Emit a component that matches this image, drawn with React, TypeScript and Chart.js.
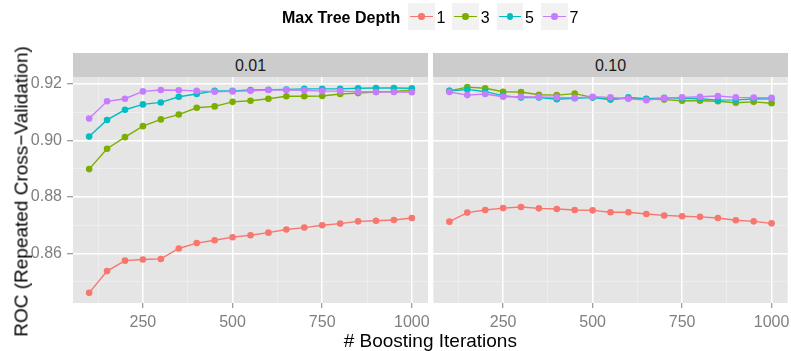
import React, { useEffect, useRef } from "react";
import { Chart, registerables } from "chart.js";

Chart.register(...registerables);

// ---------- data ----------
const iterations = [100, 150, 200, 250, 300, 350, 400, 450, 500, 550, 600, 650, 700, 750, 800, 850, 900, 950, 1000];
const depthLabels = ["1", "3", "5", "7"];
const depthColors = ["#F8766D", "#7CAE00", "#00BFC4", "#C77CFF"];
const shrinkageLabels = ["0.01", "0.10"];

// shrinkage 0.01
const depth1Shrink001 = [0.8461, 0.8538, 0.8575, 0.8579, 0.8581, 0.8618, 0.8637, 0.8647, 0.8658, 0.8665, 0.8674, 0.8685, 0.8692, 0.8700, 0.8706, 0.8714, 0.8716, 0.8719, 0.8726];
const depth3Shrink001 = [0.8899, 0.8971, 0.9012, 0.9051, 0.9075, 0.9092, 0.9116, 0.9121, 0.9137, 0.9141, 0.9148, 0.9157, 0.9157, 0.9158, 0.9165, 0.9168, 0.9172, 0.9174, 0.9178];
const depth5Shrink001 = [0.9014, 0.9073, 0.9109, 0.9128, 0.9135, 0.9155, 0.9165, 0.9176, 0.9176, 0.9179, 0.9180, 0.9181, 0.9183, 0.9183, 0.9183, 0.9185, 0.9186, 0.9186, 0.9185];
const depth7Shrink001 = [0.9078, 0.9139, 0.9148, 0.9174, 0.9179, 0.9178, 0.9176, 0.9173, 0.9174, 0.9176, 0.9179, 0.9179, 0.9178, 0.9175, 0.9175, 0.9173, 0.9172, 0.9172, 0.9171];

// shrinkage 0.10
const depth1Shrink010 = [0.8713, 0.8745, 0.8754, 0.8761, 0.8765, 0.8760, 0.8758, 0.8754, 0.8753, 0.8746, 0.8746, 0.8740, 0.8735, 0.8732, 0.8730, 0.8726, 0.8718, 0.8714, 0.8707];
const depth3Shrink010 = [0.9176, 0.9189, 0.9185, 0.9173, 0.9172, 0.9162, 0.9161, 0.9166, 0.9153, 0.9146, 0.9150, 0.9147, 0.9145, 0.9141, 0.9141, 0.9139, 0.9134, 0.9137, 0.9132];
const depth5Shrink010 = [0.9176, 0.9181, 0.9173, 0.9159, 0.9152, 0.9152, 0.9146, 0.9150, 0.9152, 0.9145, 0.9153, 0.9148, 0.9151, 0.9150, 0.9148, 0.9143, 0.9144, 0.9147, 0.9148];
const depth7Shrink010 = [0.9172, 0.9161, 0.9165, 0.9155, 0.9155, 0.9154, 0.9153, 0.9151, 0.9155, 0.9153, 0.9148, 0.9143, 0.9150, 0.9153, 0.9155, 0.9158, 0.9153, 0.9152, 0.9151];

const xMajorTicks = [250, 500, 750, 1000];
const xMinorTicks = [125, 375, 625, 875];
const yMajorTicks = [0.86, 0.88, 0.9, 0.92];
const yMinorTicks = [0.85, 0.87, 0.89, 0.91];
const xLimits = [55, 1045];
const yLimits = [0.8425, 0.9225];

const legendTitle = "Max Tree Depth";
const xTitle = "# Boosting Iterations";
const yTitle = "ROC (Repeated Cross\u2212Validation)";

// ---------- styling ----------
const FONT = "'Liberation Sans', Arial, Helvetica, sans-serif";
const TICK_GREY = "#7F7F7F";

const isIn = (arr: number[], v: number) => arr.some((m) => Math.abs(m - v) < 1e-9);

const panelBackground = {
  id: "panelBackground",
  beforeDraw(chart: any) {
    const { ctx, chartArea } = chart;
    if (!chartArea) return;
    ctx.save();
    ctx.fillStyle = "#E5E5E5";
    ctx.fillRect(chartArea.left, chartArea.top, chartArea.right - chartArea.left, chartArea.bottom - chartArea.top);
    ctx.restore();
  },
};

function buildDatasets(series: number[][]) {
  const n = series.length;
  const lines = series.map((vals, i) => ({
    label: depthLabels[i] + "-line",
    data: iterations.map((x, k) => ({ x, y: vals[k] })),
    borderColor: depthColors[i],
    backgroundColor: depthColors[i],
    borderWidth: 1.4,
    pointRadius: 0,
    pointHoverRadius: 0,
    fill: false,
    tension: 0,
    order: 10 + (n - 1 - i),
  }));
  const points = series.map((vals, i) => ({
    label: depthLabels[i],
    data: iterations.map((x, k) => ({ x, y: vals[k] })),
    showLine: false,
    borderColor: depthColors[i],
    backgroundColor: depthColors[i],
    pointRadius: 3.3,
    pointHoverRadius: 3.3,
    pointBackgroundColor: depthColors[i],
    pointBorderColor: depthColors[i],
    pointBorderWidth: 0,
    order: n - 1 - i,
  }));
  return [...lines, ...points];
}

function makeConfig(series: number[][], showY: boolean, padding: any): any {
  return {
    type: "line",
    data: { datasets: buildDatasets(series) },
    plugins: [panelBackground],
    options: {
      animation: false,
      responsive: false,
      maintainAspectRatio: false,
      events: [],
      layout: { padding },
      plugins: { legend: { display: false }, tooltip: { enabled: false }, title: { display: false } },
      scales: {
        x: {
          type: "linear",
          min: xLimits[0],
          max: xLimits[1],
          afterBuildTicks: (s: any) => {
            s.ticks = [...xMinorTicks, ...xMajorTicks].sort((a, b) => a - b).map((v) => ({ value: v }));
          },
          afterFit: (s: any) => {
            s.height = 48;
            s.paddingLeft = 0;
            s.paddingRight = 0;
          },
          border: { display: false },
          grid: {
            drawTicks: true,
            tickLength: 5,
            tickWidth: 1,
            color: (c: any) => (c.tick && isIn(xMajorTicks, c.tick.value) ? "#FFFFFF" : "#F2F2F2"),
            lineWidth: (c: any) => (c.tick && isIn(xMajorTicks, c.tick.value) ? 1.5 : 0.7),
            tickColor: (c: any) => (c.tick && isIn(xMajorTicks, c.tick.value) ? TICK_GREY : "rgba(0,0,0,0)"),
          },
          ticks: {
            autoSkip: false,
            maxRotation: 0,
            minRotation: 0,
            padding: 5,
            color: TICK_GREY,
            font: { family: FONT, size: 16 },
            callback: (v: any) => (isIn(xMajorTicks, Number(v)) ? String(v) : ""),
          },
        },
        y: {
          type: "linear",
          min: yLimits[0],
          max: yLimits[1],
          afterBuildTicks: (s: any) => {
            s.ticks = [...yMinorTicks, ...yMajorTicks].sort((a, b) => a - b).map((v) => ({ value: v }));
          },
          afterFit: (s: any) => {
            s.width = showY ? 73 : 0;
            s.paddingTop = 0;
            s.paddingBottom = 0;
          },
          border: { display: false },
          grid: {
            drawTicks: showY,
            tickLength: 6,
            tickWidth: 1,
            color: (c: any) => (c.tick && isIn(yMajorTicks, c.tick.value) ? "#FFFFFF" : "#F2F2F2"),
            lineWidth: (c: any) => (c.tick && isIn(yMajorTicks, c.tick.value) ? 1.5 : 0.7),
            tickColor: (c: any) => (c.tick && isIn(yMajorTicks, c.tick.value) ? TICK_GREY : "rgba(0,0,0,0)"),
          },
          ticks: {
            display: showY,
            autoSkip: false,
            padding: 5,
            color: TICK_GREY,
            font: { family: FONT, size: 16 },
            callback: (v: any) => (isIn(yMajorTicks, Number(v)) ? Number(v).toFixed(2) : ""),
          },
        },
      },
    },
  };
}

export default function App() {
  const leftRef = useRef<HTMLCanvasElement | null>(null);
  const rightRef = useRef<HTMLCanvasElement | null>(null);

  useEffect(() => {
    const charts: Chart[] = [];
    if (leftRef.current) {
      charts.push(
        new Chart(
          leftRef.current,
          makeConfig([depth1Shrink001, depth3Shrink001, depth5Shrink001, depth7Shrink001], true, { top: 77, right: 12, bottom: 0, left: 0 })
        )
      );
    }
    if (rightRef.current) {
      charts.push(
        new Chart(
          rightRef.current,
          makeConfig([depth1Shrink010, depth3Shrink010, depth5Shrink010, depth7Shrink010], false, { top: 77, right: 3, bottom: 0, left: 3 })
        )
      );
    }
    return () => charts.forEach((c) => c.destroy());
  }, []);

  const keyLeft = (i: number) => 408 + i * 44.3;

  return (
    <div
      style={{
        position: "absolute",
        left: 0,
        top: 0,
        width: 791,
        height: 351,
        overflow: "hidden",
        background: "#FFFFFF",
        fontFamily: FONT,
      }}
    >
      <canvas ref={leftRef} width={440} height={351} style={{ position: "absolute", left: 0, top: 0, width: 440, height: 351 }} />
      <canvas ref={rightRef} width={361} height={351} style={{ position: "absolute", left: 430, top: 0, width: 361, height: 351 }} />

      {/* facet strips */}
      {shrinkageLabels.map((lab, i) => (
        <div
          key={lab}
          style={{
            position: "absolute",
            left: i === 0 ? 73 : 433,
            top: 53,
            width: 355,
            height: 24,
            background: "#CCCCCC",
            color: "#1A1A1A",
            fontSize: 16,
            lineHeight: "24px",
            paddingTop: 1,
            boxSizing: "border-box",
            textAlign: "center",
          }}
        >
          {lab}
        </div>
      ))}

      {/* legend */}
      <div style={{ position: "absolute", left: 282, top: 10, fontSize: 16, lineHeight: "16px", fontWeight: "bold", color: "#000", whiteSpace: "nowrap" }}>
        {legendTitle}
      </div>
      {depthLabels.map((lab, i) => (
        <React.Fragment key={lab}>
          <div style={{ position: "absolute", left: keyLeft(i), top: 3, width: 26.7, height: 27, background: "#F2F2F2" }} />
          <div style={{ position: "absolute", left: keyLeft(i) + 2, top: 15.8, width: 22.7, height: 1.4, background: depthColors[i] }} />
          <div
            style={{
              position: "absolute",
              left: keyLeft(i) + 13.35 - 3.3,
              top: 16.5 - 3.3,
              width: 6.6,
              height: 6.6,
              borderRadius: "50%",
              background: depthColors[i],
            }}
          />
          <div style={{ position: "absolute", left: keyLeft(i) + 28.5, top: 9.5, fontSize: 16, lineHeight: "16px", color: "#000" }}>{lab}</div>
        </React.Fragment>
      ))}

      {/* axis titles */}
      <div
        style={{
          position: "absolute",
          left: 130.3,
          top: 331,
          width: 600,
          textAlign: "center",
          fontSize: 19,
          lineHeight: "19px",
          color: "#000",
          whiteSpace: "nowrap",
        }}
      >
        {xTitle}
      </div>
      <div
        style={{
          position: "absolute",
          left: 20.7 - 170,
          top: 191 - 9.5,
          width: 340,
          height: 19,
          textAlign: "center",
          fontSize: 19,
          lineHeight: "19px",
          color: "#000",
          whiteSpace: "nowrap",
          transform: "rotate(-90deg)",
          transformOrigin: "50% 50%",
        }}
      >
        {yTitle}
      </div>
    </div>
  );
}
